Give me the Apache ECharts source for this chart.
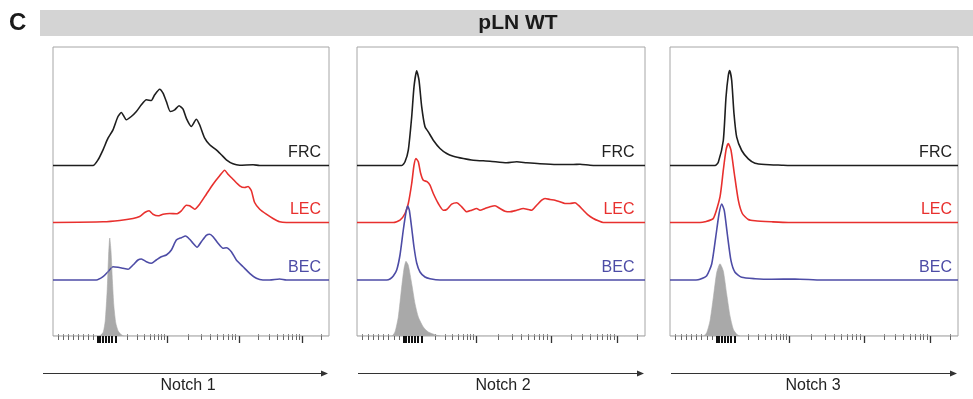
<!DOCTYPE html>
<html>
<head>
<meta charset="utf-8">
<title>pLN WT</title>
<script src="https://cdn.jsdelivr.net/npm/echarts@6/dist/echarts.min.js"></script>
<style>
  html, body { margin: 0; padding: 0; background: #fff; }
  #main { width: 973px; height: 399px; }
</style>
</head>
<body>
<div id="main"></div>
<script>
// x = display channel (0..288, biexponential scale), y = relative count
var panelNames = ['Notch 1', 'Notch 2', 'Notch 3'];
var popNames = ['FRC', 'LEC', 'BEC'];

// Notch 1
var frc1 = [[0,0],[41.7,0],[47,5.7],[52.2,15.7],[57.4,27.3],[62.6,35.7],[67.8,49],[71.3,53],[76.5,45.7],[81.7,49],[87,54],[92.2,60.7],[97.4,65.7],[102.6,65],[106.1,70.7],[111.3,76.3],[114.8,72.3],[118.3,64],[122.4,54],[127,55.7],[131.5,59.7],[135.7,56.3],[139.1,47.3],[144.3,39],[149.6,46.3],[153,40.7],[158.3,27.3],[163.5,20.7],[170.4,15.7],[175.7,10.7],[180.9,5.7],[187.8,1.7],[194.8,0.3],[208.7,0.7],[215.7,0],[288,0]];
var lec1 = [[0,0],[52.2,0.7],[69.6,2],[83.5,4],[90.4,6],[95.7,10],[100.2,11.7],[104.3,8.3],[109.6,6.7],[114.8,8.3],[121.7,9],[128.7,8.7],[133.9,11.7],[139.1,17.3],[142.6,16.7],[147.8,13.3],[153,18.3],[160,28.3],[167,38.3],[173.9,46.7],[179.1,52.3],[182.6,48.3],[187.8,43.3],[194.8,36.7],[200,35],[203.5,36],[207,31.7],[210.4,20],[215.7,13.3],[222.6,8.3],[229.6,4],[236.5,0.7],[243.5,0],[288,0]];
var bec1 = [[0,0],[45.2,0],[52.2,3.3],[57.4,8.3],[62.6,13.3],[67.8,12.7],[73,11.7],[78.3,10.7],[83.5,15],[88.7,20],[92.2,21],[97.4,18.3],[102.6,16.7],[107.8,20],[113,23.3],[118.3,25],[123.5,30],[128.7,40],[133.9,42.3],[138.4,44],[142.6,40.7],[146.1,36.7],[150.3,32.7],[154.8,38.3],[160,44.7],[163.5,45.7],[167,43.3],[172.2,36.7],[177.4,31.7],[180.9,32.3],[186.1,28.3],[191.3,20],[198.3,13.3],[205.2,6.7],[212.2,1.7],[219.1,0],[226.1,0],[236.5,1],[243.5,0],[288,0]];
var ctrl1 = [[0,0],[48,0],[50,1],[52.5,4],[54.5,15],[56.5,45],[58,80],[59.2,98],[60.5,85],[62,55],[63.5,30],[65.5,13],[68,5],[71,1.5],[74,0],[288,0]];

// Notch 2
var frc2 = [[0,0],[44.7,0],[48,3.7],[51.3,15.3],[54.7,48.7],[57,78.7],[59.7,94.7],[62,85.3],[64.7,58.7],[68,38.7],[71.3,33.7],[76.3,25.3],[83,17],[89.7,12],[96.3,9.3],[106.3,7],[116.3,5.3],[133,4.3],[149.7,2.7],[159.7,3.7],[169.7,2.7],[183,1.7],[199.7,1],[216.3,1],[223,1.3],[233,0.3],[249.7,0],[288,0]];
var lec2 = [[0,0],[36.3,0],[43,2.3],[48,9],[51.3,19],[54.7,39],[57,57.3],[59,64],[61.3,60.7],[63.7,49],[66.3,42.3],[70.3,40.7],[73,37.3],[76.3,29],[81.3,19],[86.3,12.3],[89.7,13],[94.7,18.3],[99.7,19.7],[104.7,15.7],[109.7,10.7],[114.7,12.3],[119.7,14],[123,12.3],[128,14],[133,15.7],[138,16.7],[143,14],[148,11.3],[153,10.7],[159.7,12.3],[166.3,14],[171.3,13],[174.7,12.3],[179.7,17.3],[184.7,22.3],[188,24],[193,23],[198,22.3],[203,20.7],[208,19],[213,19],[218,19.7],[221.3,17.3],[226.3,12.3],[231.3,7.3],[236.3,4],[241.3,1.7],[246.3,0],[288,0]];
var bec2 = [[0,0],[29.7,0],[33,1],[36.3,4],[39.7,10],[43,25],[46.3,50],[49,68],[50.7,74],[52.3,70],[54.7,52],[57,33],[59.7,17],[63,8],[68,3],[73,1.3],[83,0],[288,0]];
var ctrl2 = [[0,0],[34.7,0],[38,4],[41.3,19],[44.7,49],[47,67.3],[49,74.7],[51.3,70.7],[54.7,52.3],[58,32.3],[61.3,19],[66.3,9],[71.3,4],[79.7,0.7],[85,0],[288,0]];

// Notch 3
var frc3 = [[0,0],[45,0],[48.3,3.3],[53.3,25],[56,68.3],[58.3,90],[59.7,95],[61.7,85],[64,51.7],[66.7,28.3],[71.7,15],[78.3,6.7],[85,2.3],[95,1],[111.7,0.3],[120,0],[288,0]];
var lec3 = [[0,0],[30,0],[35,0.7],[43.3,4],[50,25.7],[53.3,52.3],[56,72.3],[58.3,79],[61,72.3],[64.3,49],[68.3,22.3],[72.3,9],[78.3,3],[85,1.7],[101.7,0.7],[118.3,0],[288,0]];
var bec3 = [[0,0],[26,0],[30,0.7],[36.7,4.3],[41.7,16],[45.7,42.7],[49,66],[51.7,76],[54.3,69.3],[57.3,46],[61,19.3],[65,7.7],[71.7,2.7],[85,1.3],[101.7,0.7],[125,1],[151.7,0],[288,0]];
var ctrl3 = [[0,0],[33.3,0],[36.7,3.3],[40,15],[43.3,38.3],[46.7,63.3],[50,72.3],[53.3,65],[56.7,41.7],[60,20],[63.3,6.7],[66.7,1.7],[70,0],[288,0]];

// axis ticks (display channel)
var majorTicks = [119, 194, 260];
var zeroTicks = [46.5, 49, 52, 55, 58, 61, 65];
var minorTicks = [5.5, 11, 16, 21, 26.5, 31.5, 37, 42, 77.8, 88.2, 95.5, 101.2, 105.9, 109.9, 113.3, 116.3, 141.6, 154.8, 164.2, 171.4, 177.4, 182.4, 186.7, 190.6, 213.9, 225.5, 233.7, 240.1, 245.4, 249.8, 253.6, 257, 279.9];

var traces = [
  { FRC: frc1, LEC: lec1, BEC: bec1, ctrl: ctrl1 },
  { FRC: frc2, LEC: lec2, BEC: bec2, ctrl: ctrl2 },
  { FRC: frc3, LEC: lec3, BEC: bec3, ctrl: ctrl3 }
];

var font = 'Liberation Sans, Arial, Helvetica, sans-serif';
var colors = { FRC: '#1e1e1e', LEC: '#e8302e', BEC: '#4d4ca6', ctrl: '#a9a9a9' };
var offset = { FRC: 170.5, LEC: 113.5, BEC: 56, ctrl: 0 };   // stacking of the histograms
var boxes = [
  { left: 53, width: 276, labelGap: 8, arrow: [43, 328], title: 188 },
  { left: 357, width: 288, labelGap: 10.5, arrow: [358, 644], title: 503 },
  { left: 670, width: 288, labelGap: 6, arrow: [671, 957], title: 813 }
];
var boxTop = 47, boxH = 289, yMax = 289, xMax = 288;

var myChart = echarts.init(document.getElementById('main'));

var grids = [], xAxes = [], yAxes = [], series = [];
var graphics = [
  { type: 'rect', shape: { x: 40, y: 10, width: 933, height: 26 }, style: { fill: '#d4d4d4' } },
  { type: 'text', x: 9, y: 23, style: { text: 'C', font: 'bold 24px ' + font, fill: '#1a1a1a', textAlign: 'left', textVerticalAlign: 'middle', align: 'left', verticalAlign: 'middle' } },
  { type: 'text', x: 518, y: 23, style: { text: 'pLN WT', font: 'bold 21px ' + font, fill: '#1a1a1a', textAlign: 'center', textVerticalAlign: 'middle', align: 'center', verticalAlign: 'middle' } }
];

function tickAxis(gi, values, len, color, width, inside) {
  return {
    type: 'value', gridIndex: gi, min: 0, max: xMax, position: 'bottom',
    axisLine: { show: false, onZero: false },
    axisLabel: { show: false },
    splitLine: { show: false },
    axisTick: { show: true, inside: !!inside, customValues: values, length: len, lineStyle: { color: color, width: width } }
  };
}

boxes.forEach(function (b, i) {
  grids.push({
    left: b.left, top: boxTop, width: b.width, height: boxH,
    show: true, borderColor: '#a6a6a6', borderWidth: 1, backgroundColor: 'transparent'
  });
  xAxes.push(tickAxis(i, majorTicks, 7, '#333', 1.3));
  xAxes.push(tickAxis(i, minorTicks, 4, '#666', 1));
  xAxes.push(tickAxis(i, zeroTicks, 7, '#111', 2));
  xAxes.push(tickAxis(i, minorTicks, 2, '#888', 1, true));
  yAxes.push({ type: 'value', gridIndex: i, min: 0, max: yMax, show: false });

  ['FRC', 'LEC', 'BEC', 'ctrl'].forEach(function (pop) {
    var s = {
      type: 'line', name: pop, xAxisIndex: i * 4, yAxisIndex: i,
      data: traces[i][pop].map(function (p) { return [p[0], p[1] + offset[pop]]; }),
      symbol: 'none', smooth: 0.2,
      lineStyle: { color: colors[pop], width: 1.6 },
      silent: true
    };
    if (pop === 'ctrl') {
      s.lineStyle = { color: colors.ctrl, width: 0.6 };
      s.areaStyle = { color: colors.ctrl, opacity: 1 };
    }
    series.push(s);
  });

  // population labels sit just above each baseline, right aligned
  var right = b.left + b.width - b.labelGap;
  popNames.forEach(function (pop) {
    var yb = boxTop + boxH * (1 - offset[pop] / yMax);
    graphics.push({
      type: 'text', x: right, y: yb - 12.5,
      style: { text: pop, font: '16px ' + font, fill: pop === 'FRC' ? '#222' : colors[pop], textAlign: 'right', textVerticalAlign: 'middle', align: 'right', verticalAlign: 'middle' }
    });
  });

  // arrow + channel name
  graphics.push({ type: 'line', shape: { x1: b.arrow[0], y1: 373.5, x2: b.arrow[1] - 4, y2: 373.5 }, style: { stroke: '#333', lineWidth: 1 } });
  graphics.push({ type: 'polygon', shape: { points: [[b.arrow[1] - 7, 370.5], [b.arrow[1], 373.5], [b.arrow[1] - 7, 376.5]] }, style: { fill: '#333' } });
  graphics.push({
    type: 'text', x: b.title, y: 386,
    style: { text: panelNames[i], font: '16px ' + font, fill: '#222', textAlign: 'center', textVerticalAlign: 'middle', align: 'center', verticalAlign: 'middle' }
  });
});

myChart.setOption({
  animation: false,
  backgroundColor: '#fff',
  grid: grids,
  xAxis: xAxes,
  yAxis: yAxes,
  series: series,
  graphic: graphics
});
</script>
</body>
</html>
